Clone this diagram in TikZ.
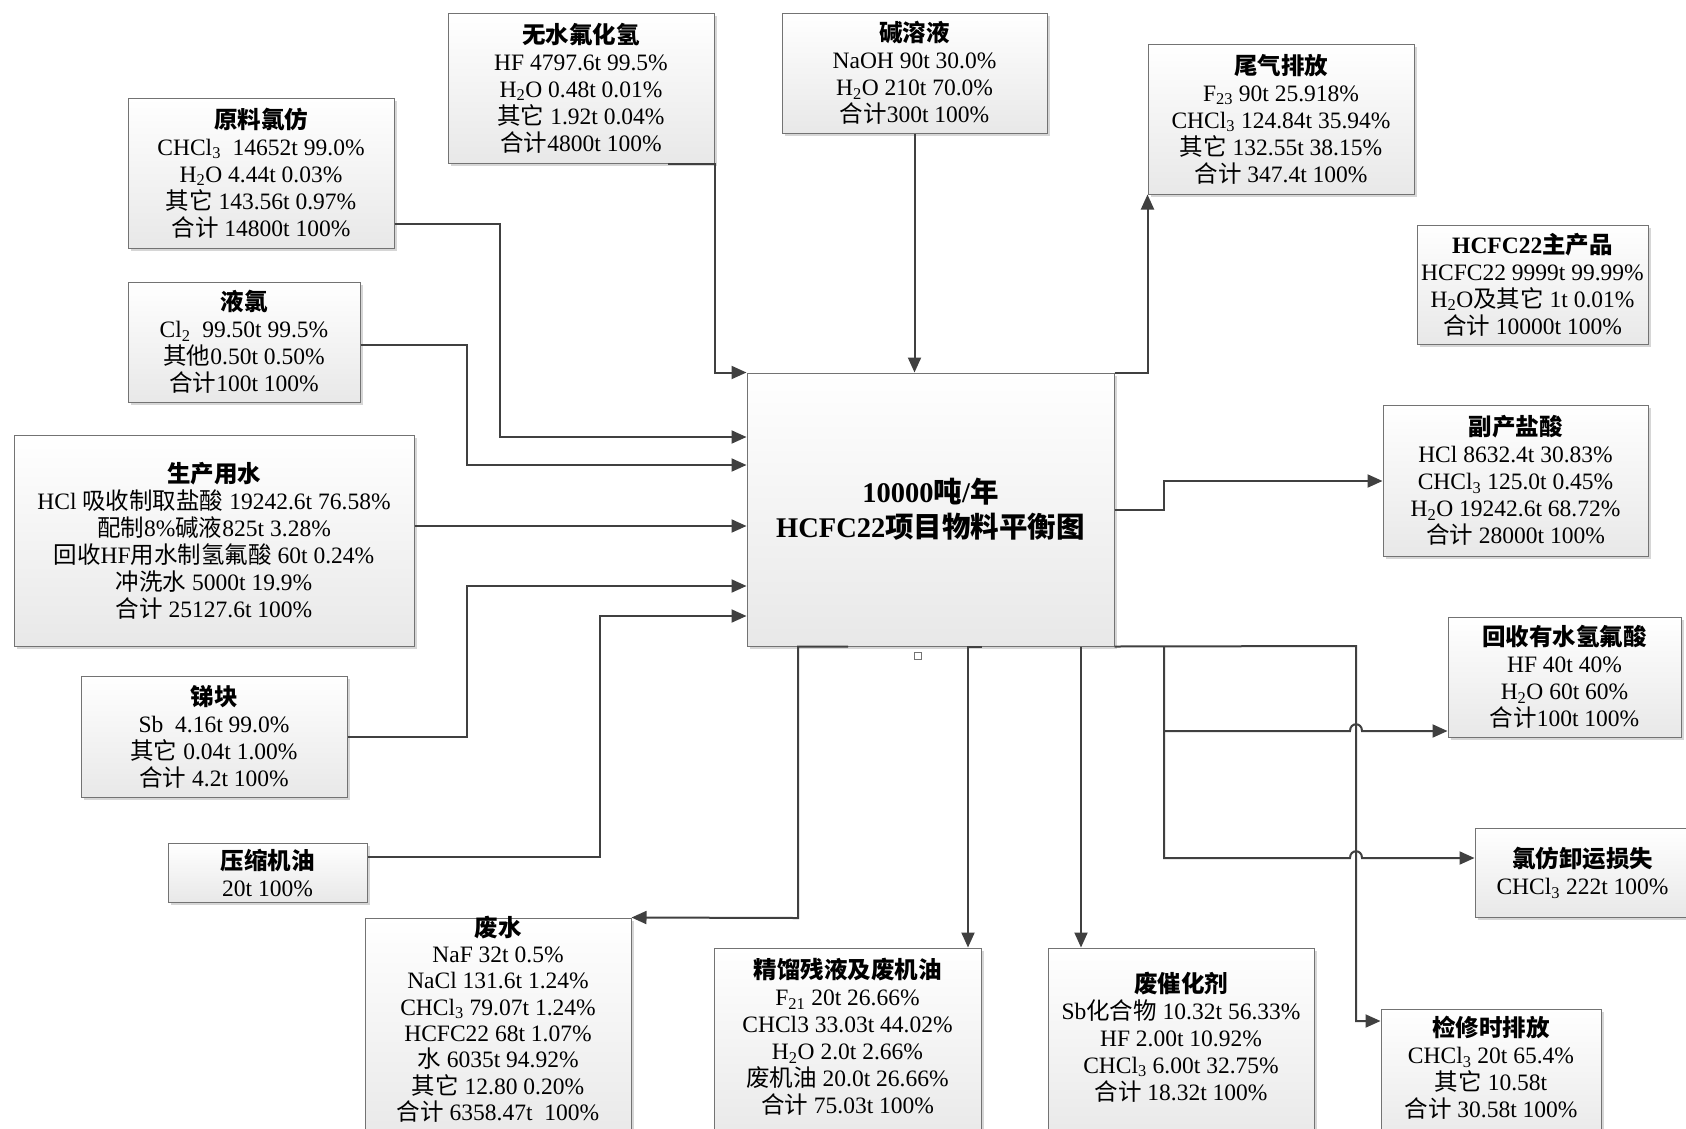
\documentclass[tikz,border=0pt]{standalone}
\usepackage{fontspec}
\setmainfont{Liberation Serif}
\newfontfamily\cjkfont{Noto Sans CJK SC}
\usetikzlibrary{arrows.meta,shadows}
\XeTeXinterchartokenstate=1
\chardef\cjkclass=7
\makeatletter
\count@="4E00
\loop
\XeTeXcharclass\count@=\cjkclass
\advance\count@ by 1
\ifnum\count@<"A000\relax\repeat
\makeatother
\XeTeXinterchartoks 0 \cjkclass={\cjkfont}
\XeTeXinterchartoks 4095 \cjkclass={\cjkfont}
\XeTeXinterchartoks \cjkclass 0={\rmfamily}
\XeTeXinterchartoks \cjkclass 4095={\rmfamily}
\begin{document}
\begin{tikzpicture}[x=1pt,y=-1pt,
  box/.style={draw=black!55, line width=1pt, top color=white, bottom color=black!9,
    inner sep=0pt, align=center, font=\fontsize{23.5}{27}\selectfont,
    drop shadow={shadow xshift=3pt, shadow yshift=-3pt, fill=black!16, opacity=1}},
  txt/.style={inner sep=0pt, align=center, font=\fontsize{23.5}{27}\selectfont},
  link/.style={draw=black!75, line width=2pt},
  arr/.style={link, -{Triangle[length=15pt,width=13pt]}}]
\useasboundingbox (0,0) rectangle (1686,1128);
\fill[white] (0,0) rectangle (1686,1128);

% input boxes
\node[box, minimum width=266pt, minimum height=150pt] (hf) at (581,88)
 {\textbf{无水氟化氢}\\HF 4797.6t 99.5\%\\H\textsubscript{2}O 0.48t 0.01\%\\其它 1.92t 0.04\%\\合计4800t 100\%};
\node[box, minimum width=265pt, minimum height=120pt] (naoh) at (914.5,73)
 {\textbf{碱溶液}\\NaOH 90t 30.0\%\\H\textsubscript{2}O 210t 70.0\%\\合计300t 100\%};
\node[box, minimum width=266pt, minimum height=150pt] (chcl3) at (261,173)
 {\textbf{原料氯仿}\\CHCl\textsubscript{3}\ \ 14652t 99.0\%\\H\textsubscript{2}O 4.44t 0.03\%\\其它 143.56t 0.97\%\\合计 14800t 100\%};
\node[box, minimum width=232pt, minimum height=120pt] (cl2) at (244,342)
 {\textbf{液氯}\\Cl\textsubscript{2}\ \ 99.50t 99.5\%\\其他0.50t 0.50\%\\合计100t 100\%};
\node[box, minimum width=400pt, minimum height=211pt] (water) at (214,540.5)
 {\textbf{生产用水}\\HCl 吸收制取盐酸 19242.6t 76.58\%\\配制8\%碱液825t 3.28\%\\回收HF用水制氢氟酸 60t 0.24\%\\冲洗水 5000t 19.9\%\\合计 25127.6t 100\%};
\node[box, minimum width=266pt, minimum height=121pt] (sb) at (214,736.5)
 {\textbf{锑块}\\Sb\ \ 4.16t 99.0\%\\其它 0.04t 1.00\%\\合计 4.2t 100\%};
\node[box, minimum width=199pt, minimum height=59pt] (oil) at (267.5,872.5)
 {\textbf{压缩机油}\\20t 100\%};

% central box
\node[box, minimum width=367pt, minimum height=273pt, font=\fontsize{28.5}{35}\selectfont\bfseries] (main) at (930.5,509.5)
 {10000吨/年\\HCFC22项目物料平衡图};

% output boxes
\node[box, minimum width=266pt, minimum height=150pt] (tail) at (1281,119)
 {\textbf{尾气排放}\\F\textsubscript{23} 90t 25.918\%\\CHCl\textsubscript{3} 124.84t 35.94\%\\其它 132.55t 38.15\%\\合计 347.4t 100\%};
\node[box, minimum width=231pt, minimum height=119pt] (prod) at (1532.5,284.5)
 {\textbf{HCFC22主产品}\\HCFC22 9999t 99.99\%\\H\textsubscript{2}O及其它 1t 0.01\%\\合计 10000t 100\%};
\node[box, minimum width=265pt, minimum height=151pt] (hcl) at (1515.5,480.5)
 {\textbf{副产盐酸}\\HCl 8632.4t 30.83\%\\CHCl\textsubscript{3} 125.0t 0.45\%\\H\textsubscript{2}O 19242.6t 68.72\%\\合计 28000t 100\%};
\node[box, minimum width=233pt, minimum height=120pt] (rhf) at (1564.5,677)
 {\textbf{回收有水氢氟酸}\\HF 40t 40\%\\H\textsubscript{2}O 60t 60\%\\合计100t 100\%};
\node[box, minimum width=215pt, minimum height=89pt] (loss) at (1582.5,872.5)
 {\textbf{氯仿卸运损失}\\CHCl\textsubscript{3} 222t 100\%};

\node[box, minimum width=266pt, minimum height=227pt] (ww) at (498,1031.5) {};
\node[txt, font=\fontsize{23.5}{26.3}\selectfont] (wwt) at (498,1019)
 {\textbf{废水}\\NaF 32t 0.5\%\\NaCl 131.6t 1.24\%\\CHCl\textsubscript{3} 79.07t 1.24\%\\HCFC22 68t 1.07\%\\水 6035t 94.92\%\\其它 12.80 0.20\%\\合计 6358.47t\ \ 100\%};
\node[box, minimum width=267pt, minimum height=197pt] (res) at (847.5,1046.5) {};
\node[txt] (rest) at (847.5,1037)
 {\textbf{精馏残液及废机油}\\F\textsubscript{21} 20t 26.66\%\\CHCl3 33.03t 44.02\%\\H\textsubscript{2}O 2.0t 2.66\%\\废机油 20.0t 26.66\%\\合计 75.03t 100\%};
\node[box, minimum width=266pt, minimum height=197pt] (cat) at (1181,1046.5) {};
\node[txt] (catt) at (1181,1037)
 {\textbf{废催化剂}\\Sb化合物 10.32t 56.33\%\\HF 2.00t 10.92\%\\CHCl\textsubscript{3} 6.00t 32.75\%\\合计 18.32t 100\%};
\node[box, minimum width=220pt, minimum height=136pt] (maint) at (1491,1077) {};
\node[txt] (maintt) at (1491,1068)
 {\textbf{检修时排放}\\CHCl\textsubscript{3} 20t 65.4\%\\其它 10.58t\\合计 30.58t 100\%};

\node[draw=black!55, line width=0.8pt, fill=white, minimum size=7pt, inner sep=0pt] (hdl) at (918,656) {};

% inputs
\draw[arr] (chcl3.east |- 0,224) -- (500,224) -- (500,437) -- (main.west |- 0,437);
\draw[arr] (cl2.east |- 0,345) -- (467,345) -- (467,465) -- (main.west |- 0,465);
\draw[arr] (water.east |- 0,526) -- (main.west |- 0,526);
\draw[arr] (sb.east |- 0,737) -- (467,737) -- (467,586) -- (main.west |- 0,586);
\draw[arr] (oil.east |- 0,857) -- (600,857) -- (600,616) -- (main.west |- 0,616);
\draw[arr] (hf.south -| 668,0) -- (hf.south east) -- (hf.south east |- main.north) -- (main.north west);
\draw[arr] (naoh.south) -- (naoh.south |- main.north);

% outputs
\draw[arr] (main.north east) -- (tail.south west |- main.north east) -- (tail.south west);
\draw[arr] (main.east |- 0,510) -- (1164,510) -- (1164,481) -- (hcl.west |- 0,481);
\draw[arr] (main.south -| 848,0) -- (main.south -| 798,0) -- (798,918) -- (ww.north east);
\draw[arr] (main.south -| 982,0) -- (main.south -| 968,0) -- (res.north -| 968,0);
\draw[arr] (main.south -| 1081,0) -- (cat.north -| 1081,0);
\draw[arr] (main.south east) -- (1356,646) -- (1356,1021) -- (maint.west |- 0,1021);
\coordinate (j1) at (1164,646);
\coordinate (j2) at (1164,731);
\draw[arr] (j1) -- (j2) -- (1350,731) .. controls (1350,722) and (1362,722) .. (1362,731) -- (rhf.west |- 0,731);
\draw[arr] (j2) -- (1164,858) -- (1350,858) .. controls (1350,849) and (1362,849) .. (1362,858) -- (loss.west |- 0,858);
\end{tikzpicture}
\end{document}
